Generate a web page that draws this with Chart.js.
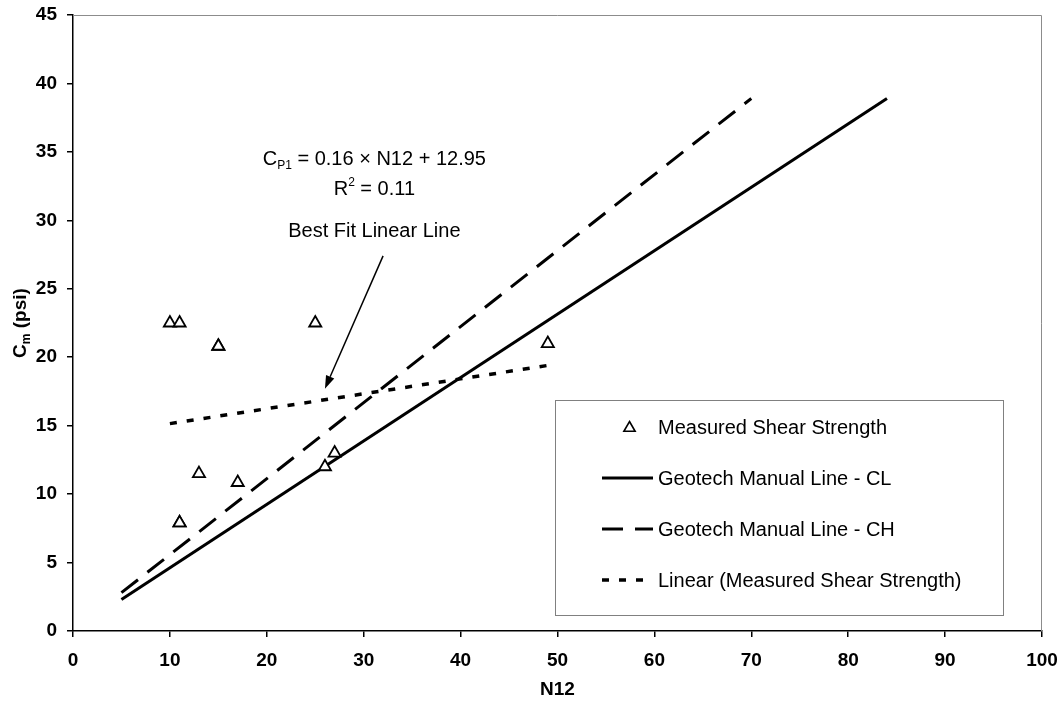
<!DOCTYPE html>
<html>
<head>
<meta charset="utf-8">
<script src="https://cdn.jsdelivr.net/npm/chart.js@4/dist/chart.umd.min.js"></script>
<style>
  html, body { margin: 0; padding: 0; background: #ffffff; }
  #wrap { width: 1059px; height: 707px; }
</style>
</head>
<body>
<div id="wrap"><canvas id="c" width="1059" height="707"></canvas></div>
<script>
// Measured shear strength vs. N12 blow count
const measuredN12 = [10, 11, 15, 15, 25, 49, 13, 17, 11, 11, 26, 27];
const measuredCm  = [22.5, 22.5, 20.8, 20.8, 22.5, 21.0, 11.5, 10.85, 7.9, 7.9, 12.0, 13.0];

// Geotech manual correlation lines (end points)
const clN12 = [5, 84];
const clCm  = [2.3, 38.9];
const chN12 = [5, 70];
const chCm  = [2.8, 38.9];

// Linear trend of the measured points (end points)
const fitN12 = [10, 49];
const fitCm  = [15.15, 19.4];

// Axis ticks
const xTicks = [0, 10, 20, 30, 40, 50, 60, 70, 80, 90, 100];
const yTicks = [0, 5, 10, 15, 20, 25, 30, 35, 40, 45];

const seriesLabels = [
  'Measured Shear Strength',
  'Geotech Manual Line - CL',
  'Geotech Manual Line - CH',
  'Linear (Measured Shear Strength)'
];

const FONT = '"Liberation Sans", Arial, sans-serif';

const toPoints = (xs, ys) => xs.map((x, i) => ({ x: x, y: ys[i] }));

// Draws a run of text pieces (normal / subscript / superscript) centred on cx
function drawRich(ctx, parts, cx, cy, weight, size) {
  const pieces = parts.map(p => {
    const s = p.kind ? Math.round(size * 0.62) : size;
    ctx.font = `${weight} ${s}px ${FONT}`;
    return { text: p.text, size: s, kind: p.kind, w: ctx.measureText(p.text).width };
  });
  const total = pieces.reduce((a, p) => a + p.w, 0);
  let x = cx - total / 2;
  ctx.textBaseline = 'alphabetic';
  ctx.textAlign = 'left';
  const base = cy + size * 0.36;
  pieces.forEach(p => {
    ctx.font = `${weight} ${p.size}px ${FONT}`;
    let y = base;
    if (p.kind === 'sub') y = base + size * 0.22;
    if (p.kind === 'sup') y = base - size * 0.42;
    ctx.fillText(p.text, x, y);
    x += p.w;
  });
}

function triangle(ctx, x, y, r, lw) {
  const a = Math.PI * 2 / 3;
  ctx.save();
  ctx.beginPath();
  for (let i = 0; i < 3; i++) {
    const ang = i * a;
    const px = x + Math.sin(ang) * r;
    const py = y - Math.cos(ang) * r;
    if (i === 0) ctx.moveTo(px, py); else ctx.lineTo(px, py);
  }
  ctx.closePath();
  ctx.fillStyle = '#ffffff';
  ctx.fill();
  ctx.lineWidth = lw;
  ctx.strokeStyle = '#000000';
  ctx.setLineDash([]);
  ctx.stroke();
  ctx.restore();
}

// Keep the plot area fixed: no extra room for overhanging tick labels
function noOverhang(scale) {
  scale.paddingLeft = 0;
  scale.paddingRight = 0;
  scale.paddingTop = 0;
  scale.paddingBottom = 0;
}

// Grey frame on the top and right of the plot area
const plotFrame = {
  id: 'plotFrame',
  beforeDatasetsDraw(chart) {
    const { ctx, chartArea: a } = chart;
    ctx.save();
    ctx.strokeStyle = '#8c8c8c';
    ctx.lineWidth = 1;
    ctx.beginPath();
    ctx.moveTo(a.left, a.top + 0.5);
    ctx.lineTo(a.right - 0.5, a.top + 0.5);
    ctx.lineTo(a.right - 0.5, a.bottom);
    ctx.stroke();
    ctx.restore();
  }
};

// Axis titles, regression note with arrow, and boxed legend
const notes = {
  id: 'notes',
  afterDatasetsDraw(chart) {
    const { ctx, chartArea: a, scales } = chart;
    const sx = scales.x, sy = scales.y;
    ctx.save();
    ctx.fillStyle = '#000000';

    // x axis title
    drawRich(ctx, [{ text: 'N12' }], (a.left + a.right) / 2, 688, 'bold', 19);

    // y axis title (rotated)
    ctx.save();
    ctx.translate(19, (a.top + a.bottom) / 2);
    ctx.rotate(-Math.PI / 2);
    drawRich(ctx, [{ text: 'C' }, { text: 'm', kind: 'sub' }, { text: ' (psi)' }], 0, 0, 'bold', 19);
    ctx.restore();

    // regression equation
    const noteX = sx.getPixelForValue(31.1);
    drawRich(ctx, [{ text: 'C' }, { text: 'P1', kind: 'sub' }, { text: ' = 0.16 \u00d7 N12 + 12.95' }],
      noteX, sy.getPixelForValue(34.6), 'normal', 20);
    drawRich(ctx, [{ text: 'R' }, { text: '2', kind: 'sup' }, { text: ' = 0.11' }],
      noteX, sy.getPixelForValue(32.4), 'normal', 20);
    drawRich(ctx, [{ text: 'Best Fit Linear Line' }],
      noteX, sy.getPixelForValue(29.3), 'normal', 20);

    // arrow to the trend line
    const x0 = sx.getPixelForValue(32.0), y0 = sy.getPixelForValue(27.4);
    const x1 = sx.getPixelForValue(26.0), y1 = sy.getPixelForValue(17.7);
    const ang = Math.atan2(y1 - y0, x1 - x0);
    const head = 13, half = 4.5;
    const bx = x1 - Math.cos(ang) * head, by = y1 - Math.sin(ang) * head;
    ctx.strokeStyle = '#000000';
    ctx.lineWidth = 1.5;
    ctx.setLineDash([]);
    ctx.beginPath();
    ctx.moveTo(x0, y0);
    ctx.lineTo(bx, by);
    ctx.stroke();
    ctx.beginPath();
    ctx.moveTo(x1, y1);
    ctx.lineTo(bx + Math.sin(ang) * half, by - Math.cos(ang) * half);
    ctx.lineTo(bx - Math.sin(ang) * half, by + Math.cos(ang) * half);
    ctx.closePath();
    ctx.fill();

    // legend box
    const box = { left: 555, top: 400, right: 1003, bottom: 615 };
    ctx.fillStyle = '#ffffff';
    ctx.fillRect(box.left, box.top, box.right - box.left, box.bottom - box.top);
    ctx.strokeStyle = '#808080';
    ctx.lineWidth = 1;
    ctx.strokeRect(box.left + 0.5, box.top + 0.5, box.right - box.left, box.bottom - box.top);

    const rowY0 = 427, rowStep = 51, sampleL = 602, sampleR = 653, textX = 658;
    chart.data.datasets.forEach((ds, i) => {
      const y = rowY0 + i * rowStep;
      if (ds.showLine === false) {
        triangle(ctx, (sampleL + sampleR) / 2 + 2, y + 1, 6.5, 1.6);
      } else {
        ctx.save();
        ctx.strokeStyle = ds.borderColor;
        ctx.lineWidth = ds.borderWidth;
        ctx.setLineDash(ds.borderDash || []);
        ctx.beginPath();
        ctx.moveTo(sampleL, y);
        ctx.lineTo(sampleR, y);
        ctx.stroke();
        ctx.restore();
      }
      ctx.fillStyle = '#000000';
      ctx.font = `normal 20px ${FONT}`;
      ctx.textAlign = 'left';
      ctx.textBaseline = 'middle';
      ctx.fillText(ds.label, textX, y + 1);
    });
    ctx.restore();
  }
};

new Chart(document.getElementById('c'), {
  type: 'scatter',
  data: {
    datasets: [
      {
        label: seriesLabels[0],
        data: toPoints(measuredN12, measuredCm),
        showLine: false,
        pointStyle: 'triangle',
        pointRadius: 7,
        pointBorderWidth: 1.8,
        pointBackgroundColor: '#ffffff',
        pointBorderColor: '#000000',
        borderColor: '#000000',
        backgroundColor: '#ffffff'
      },
      {
        label: seriesLabels[1],
        data: toPoints(clN12, clCm),
        showLine: true,
        borderColor: '#000000',
        borderWidth: 3,
        pointRadius: 0,
        fill: false
      },
      {
        label: seriesLabels[2],
        data: toPoints(chN12, chCm),
        showLine: true,
        borderColor: '#000000',
        borderWidth: 3,
        borderDash: [21, 12],
        pointRadius: 0,
        fill: false
      },
      {
        label: seriesLabels[3],
        data: toPoints(fitN12, fitCm),
        showLine: true,
        borderColor: '#000000',
        borderWidth: 3.5,
        borderDash: [7, 10],
        pointRadius: 0,
        fill: false
      }
    ]
  },
  options: {
    responsive: false,
    animation: false,
    devicePixelRatio: 1,
    layout: { padding: { left: 0, right: 17, top: 15, bottom: 0 } },
    plugins: {
      legend: { display: false },
      tooltip: { enabled: false }
    },
    scales: {
      x: {
        type: 'linear',
        min: xTicks[0],
        max: xTicks[xTicks.length - 1],
        afterBuildTicks(scale) { scale.ticks = xTicks.map(v => ({ value: v })); },
        afterFit(scale) { scale.height = 76; noOverhang(scale); },
        border: { color: '#000000', width: 1.5 },
        grid: { drawOnChartArea: false, drawTicks: true, tickLength: 6, color: '#000000', lineWidth: 1.5 },
        ticks: {
          color: '#000000',
          padding: 12,
          maxRotation: 0,
          font: { family: FONT, size: 19, weight: 'bold' }
        }
      },
      y: {
        type: 'linear',
        min: yTicks[0],
        max: yTicks[yTicks.length - 1],
        afterBuildTicks(scale) { scale.ticks = yTicks.map(v => ({ value: v })); },
        afterFit(scale) { scale.width = 73; noOverhang(scale); },
        border: { color: '#000000', width: 1.5 },
        grid: { drawOnChartArea: false, drawTicks: true, tickLength: 6, color: '#000000', lineWidth: 1.5 },
        ticks: {
          color: '#000000',
          padding: 10,
          font: { family: FONT, size: 19, weight: 'bold' }
        }
      }
    }
  },
  plugins: [plotFrame, notes]
});
</script>
</body>
</html>
